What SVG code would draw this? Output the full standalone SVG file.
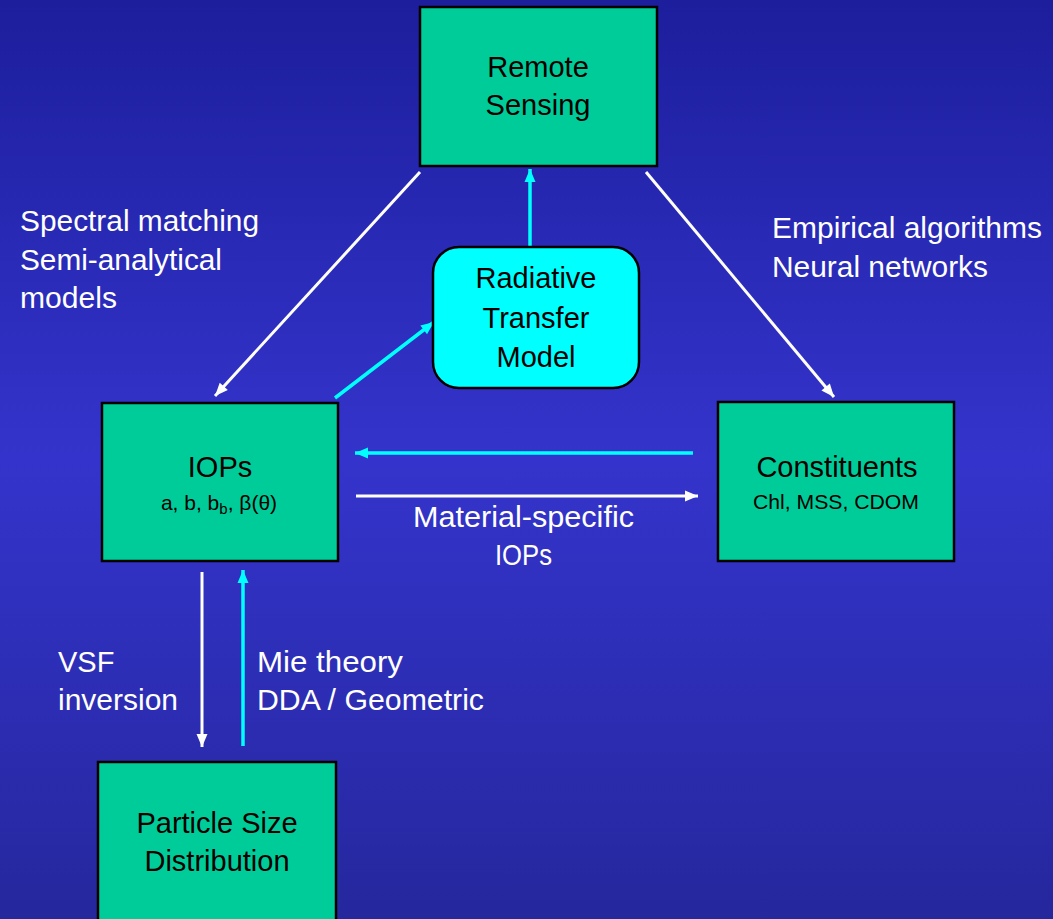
<svg xmlns="http://www.w3.org/2000/svg" width="1053" height="919" viewBox="0 0 1053 919">
<defs>
<linearGradient id="bg" x1="0" y1="0" x2="0" y2="1">
<stop offset="0" stop-color="#1c1e9c"/>
<stop offset="0.5" stop-color="#3434cc"/>
<stop offset="1" stop-color="#25279d"/>
</linearGradient>
<marker id="aw" markerUnits="userSpaceOnUse" markerWidth="14" markerHeight="12" refX="13" refY="6" orient="auto" overflow="visible">
<path d="M0,0.5 L13,6 L0,11.5 Z" fill="#ffffff"/>
</marker>
<marker id="ac" markerUnits="userSpaceOnUse" markerWidth="14" markerHeight="12" refX="13" refY="6" orient="auto" overflow="visible">
<path d="M0,0.5 L13,6 L0,11.5 Z" fill="#00ffff"/>
</marker>
</defs>
<style>
.box{fill:#00cc99;stroke:#000;stroke-width:2.5}
.rtm{fill:#00ffff;stroke:#000;stroke-width:2.5}
.t{font-family:"Liberation Sans",Arial,sans-serif;font-size:29px;fill:#000;text-anchor:middle}
.s{font-family:"Liberation Sans",Arial,sans-serif;font-size:21px;fill:#000;text-anchor:middle}
.w{font-family:"Liberation Sans",Arial,sans-serif;font-size:29px;fill:#fff}
.lw{stroke:#fff;stroke-width:3;fill:none}
.lc{stroke:#00ffff;stroke-width:3.5;fill:none}
</style>
<rect x="0" y="0" width="1053" height="919" fill="url(#bg)"/>

<g id="connectors">
<line class="lw" x1="420" y1="172" x2="215" y2="396" marker-end="url(#aw)"/>
<line class="lw" x1="646" y1="172" x2="834" y2="397" marker-end="url(#aw)"/>
<line class="lc" x1="530" y1="246" x2="530" y2="169" marker-end="url(#ac)"/>
<line class="lc" x1="335" y1="398" x2="434" y2="322" marker-end="url(#ac)"/>
<line class="lc" x1="693" y1="453" x2="355" y2="453" marker-end="url(#ac)"/>
<line class="lw" x1="356" y1="496" x2="698" y2="496" marker-end="url(#aw)"/>
<line class="lw" x1="202" y1="572" x2="202" y2="747" marker-end="url(#aw)"/>
<line class="lc" x1="243" y1="746" x2="243" y2="570" marker-end="url(#ac)"/>
</g>

<g id="remote-sensing">
<rect class="box" x="420" y="7" width="237" height="159"/>
<text class="t" x="538" y="77">Remote</text>
<text class="t" x="538" y="115">Sensing</text>
</g>

<g id="rtm">
<rect class="rtm" x="433" y="247" width="206" height="141" rx="26"/>
<text class="t" x="536" y="288">Radiative</text>
<text class="t" x="536" y="328">Transfer</text>
<text class="t" x="536" y="367">Model</text>
</g>

<g id="iops">
<rect class="box" x="102" y="403" width="236" height="158"/>
<text class="t" x="220" y="477">IOPs</text>
<text class="s" x="219" y="510">a, b, b<tspan font-size="15" dy="4">b</tspan><tspan dy="-4">, β(θ)</tspan></text>
</g>

<g id="constituents">
<rect class="box" x="718" y="402" width="236" height="159"/>
<text class="t" x="837" y="477">Constituents</text>
<text class="s" x="836" y="509" textLength="166" lengthAdjust="spacingAndGlyphs">Chl, MSS, CDOM</text>
</g>

<g id="psd">
<rect class="box" x="98" y="762" width="238" height="170"/>
<text class="t" x="217" y="833">Particle Size</text>
<text class="t" x="217" y="871">Distribution</text>
</g>

<g id="labels">
<text class="w" x="20" y="231" textLength="239" lengthAdjust="spacingAndGlyphs">Spectral matching</text>
<text class="w" x="20" y="270" textLength="202" lengthAdjust="spacingAndGlyphs">Semi-analytical</text>
<text class="w" x="20" y="308" textLength="97" lengthAdjust="spacingAndGlyphs">models</text>
<text class="w" x="772" y="238" textLength="270" lengthAdjust="spacingAndGlyphs">Empirical algorithms</text>
<text class="w" x="772" y="277" textLength="216" lengthAdjust="spacingAndGlyphs">Neural networks</text>
<text class="w" x="413" y="527" textLength="221" lengthAdjust="spacingAndGlyphs">Material-specific</text>
<text class="w" x="495" y="565" textLength="57" lengthAdjust="spacingAndGlyphs">IOPs</text>
<text class="w" x="58" y="672">VSF</text>
<text class="w" x="58" y="710" textLength="120" lengthAdjust="spacingAndGlyphs">inversion</text>
<text class="w" x="257" y="672" textLength="146" lengthAdjust="spacingAndGlyphs">Mie theory</text>
<text class="w" x="257" y="710" textLength="227" lengthAdjust="spacingAndGlyphs">DDA / Geometric</text>
</g>
</svg>
